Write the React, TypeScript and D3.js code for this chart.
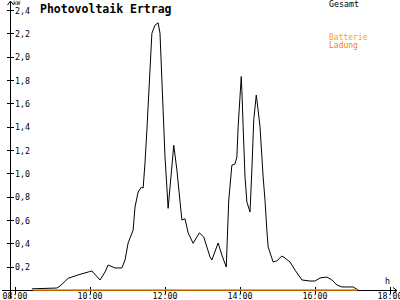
import React from "react";
import * as d3 from "d3";

const times: string[] = [
  "08:27","09:07","09:12","09:25","09:41","09:57","10:03","10:16","10:24","10:29",
  "10:40","10:51","10:56","11:01","11:09","11:12","11:17","11:22","11:25","11:28",
  "11:31","11:39","11:44","11:49","11:52","12:00","12:03","12:05","12:14","12:19",
  "12:24","12:27","12:32","12:37","12:45","12:55","13:02","13:07","13:12","13:15",
  "13:25","13:31","13:38","13:39","13:42","13:47","13:52","13:55","13:57","14:02",
  "14:03","14:05","14:08","14:11","14:16","14:19","14:22","14:26","14:27","14:32",
  "14:37","14:40","14:43","14:45","14:53","14:59","15:07","15:12","15:20","15:28",
  "15:39","15:52","16:00","16:08","16:19","16:27","16:35","16:43","17:01","17:09"
];
const gesamt: number[] = [
  0.01,0.017,0.034,0.10,0.129,0.154,0.163,0.086,0.154,0.214,
  0.189,0.189,0.257,0.403,0.514,0.711,0.84,0.88,0.874,1.09,
  1.37,2.20,2.27,2.29,2.20,1.14,0.88,0.70,1.24,1.03,
  0.76,0.60,0.61,0.49,0.40,0.49,0.454,0.369,0.283,0.257,
  0.403,0.30,0.197,0.343,0.771,1.07,1.08,1.14,1.40,1.83,
  1.71,1.40,0.97,0.754,0.669,1.03,1.46,1.67,1.63,1.40,
  0.97,0.77,0.51,0.369,0.24,0.25,0.291,0.274,0.24,0.171,
  0.086,0.077,0.077,0.103,0.111,0.086,0.043,0.026,0.026,0.0
];
const ladungTimes: string[] = ["08:29", "17:08"];
const ladung: number[] = [0, 0];

const xTicks: number[] = [8, 10, 12, 14, 16, 18];
const xTickLabels: string[] = ["08:00", "10:00", "12:00", "14:00", "16:00", "18:00"];
const yTicks: number[] = [0.2, 0.4, 0.6, 0.8, 1.0, 1.2, 1.4, 1.6, 1.8, 2.0, 2.2, 2.4];
const yTickLabels: string[] = ["0,2","0,4","0,6","0,8","1,0","1,2","1,4","1,6","1,8","2,0","2,2","2,4"];

const toHours = (s: string) => {
  const [h, m] = s.split(":").map(Number);
  return h + m / 60;
};

const FONT = "'DejaVu Sans Mono', monospace";

export default function App() {
  const W = 400, H = 300;
  const x = d3.scaleLinear().domain([8, 18]).range([15, 390]);
  const y = d3.scaleLinear().domain([0, 2.4]).range([290, 10]);
  const axX = 10.5;
  const axY = 290.5;

  const line = d3.line<[number, number]>()
    .x(d => x(d[0]))
    .y(d => y(d[1]));

  const gData: [number, number][] = times.map((t, i) => [toHours(t), gesamt[i]]);
  const lData: [number, number][] = ladungTimes.map((t, i) => [toHours(t), ladung[i]]);

  return (
    <svg width={W} height={H} style={{ position: "absolute", left: 0, top: 0, background: "#fff" }}>
      <rect x={0} y={0} width={W} height={H} fill="#fff" />
      {/* axes */}
      <g stroke="#000" strokeWidth={1} shapeRendering="crispEdges">
        <line x1={axX} y1={2} x2={axX} y2={298} />
        <line x1={2} y1={axY} x2={397} y2={axY} />
        {yTicks.map(t => (
          <line key={t} x1={7} x2={14} y1={Math.round(y(t)) + 0.5} y2={Math.round(y(t)) + 0.5} />
        ))}
        {xTicks.map(t => (
          <line key={t} x1={Math.round(x(t)) + 0.5} x2={Math.round(x(t)) + 0.5} y1={287} y2={294} />
        ))}
      </g>
      {/* arrows */}
      <path d={`M${axX - 3},5 L${axX},1 L${axX + 3},5`} fill="none" stroke="#000" strokeWidth={1} />
      <path d={`M393,${axY - 3} L397,${axY} L393,${axY + 3}`} fill="none" stroke="#000" strokeWidth={1} />

      {/* y labels */}
      {yTicks.map((t, i) => (
        <text key={t} x={15} y={y(t) + 3.5} fontFamily={FONT} fontSize={8.3} fill="#000">{yTickLabels[i]}</text>
      ))}
      <text x={13} y={5} fontFamily={FONT} fontSize={6} fill="#000">kW</text>
      {/* x labels */}
      {xTicks.map((t, i) => (
        <text key={t} x={x(t)} y={299} textAnchor="middle" fontFamily={FONT} fontSize={8.3} fill="#000">{xTickLabels[i]}</text>
      ))}
      <text x={385} y={284} fontFamily={FONT} fontSize={8.3} fill="#000">h</text>

      {/* title */}
      <text x={40} y={13} fontFamily={FONT} fontSize={11.5} fontWeight="bold" fill="#000">Photovoltaik Ertrag</text>

      {/* legend */}
      <text x={329} y={7} fontFamily={FONT} fontSize={8.3} fill="#000">Gesamt</text>
      <text x={329} y={39.5} fontFamily={FONT} fontSize={8} fill="#FFA500">Batterie</text>
      <text x={329} y={47.5} fontFamily={FONT} fontSize={8} fill="#FF8000">Ladung</text>

      {/* series */}
      <path d={line(gData) || ""} fill="none" stroke="#000" strokeWidth={1} />
      <path d={line(lData) || ""} fill="none" stroke="#FF8000" strokeWidth={1.5} />
    </svg>
  );
}
